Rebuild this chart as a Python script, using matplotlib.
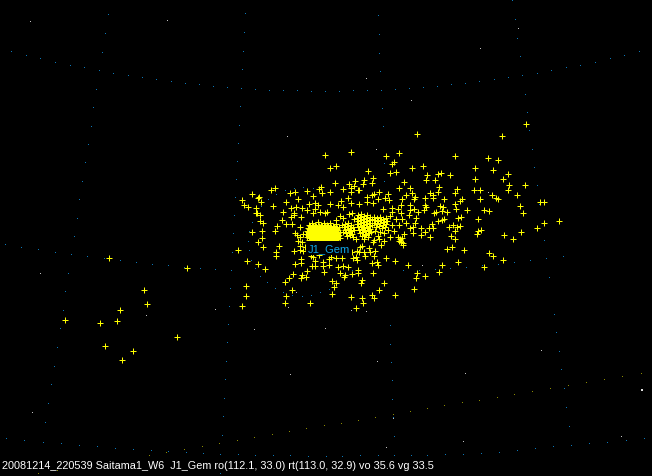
"""
Star field display: grid dots, yellow star crosses, label and status line
All values are pixel positions read off the picture
"""

import matplotlib
matplotlib.use("Agg")
import matplotlib.pyplot as plt

# yellow crosses
stars_sparse = [
    (109,259),(187,269),(144,291),(147,305),(120,311),(65,321),(100,324),(117,322),(177,338),(105,347),(133,352),(122,361),
    (325,156),(351,153),(399,154),(386,157),(330,169),(336,167),(394,163),(392,165),(390,174),(396,173),(368,172),(373,179),
    (355,182),(364,181),(335,184),(349,185),(363,185),(372,184),(343,190),(354,187),(351,189),(351,193),(359,191),(358,191),
    (399,189),(321,188),(319,190),(322,194),(330,193),(307,192),(295,193),(290,194),(275,189),(271,191),(252,195),(242,201),
    (244,206),(248,208),(259,198),(258,199),(261,203),(273,207),(286,203),(298,200),(313,197),(256,209),(256,214),(260,216),
    (283,213),(291,209),(296,208),(302,209),(307,211),(309,205),(315,204),(318,206),(315,210),(313,214),(320,213),(327,213),
    (325,214),(330,205),(338,206),(341,202),(343,208),(348,199),(351,204),(359,205),(367,198),(372,196),(379,193),(374,195),
    (388,195),(378,200),(385,199),(389,201),(367,203),(373,204),(392,209),(383,210),(398,210),(291,218),(301,218),(294,216),
]
stars_lower = [
    (294,214),(257,214),(260,222),(263,224),(277,227),(282,221),(286,225),(292,225),(300,228),(275,232),(252,233),(262,232),
    (262,239),(258,243),(263,248),(279,247),(295,234),(297,236),(300,238),(303,235),(298,242),(302,243),(294,252),(300,247),
    (300,251),(305,248),(303,252),(238,251),(276,253),(276,257),(247,262),(258,265),(265,270),(301,260),(301,264),(295,265),
    (307,272),(293,275),(289,279),(285,283),(302,276),(306,278),(301,279),(311,257),(315,262),(312,267),(315,267),(313,258),
    (319,256),(323,263),(323,267),(324,273),(329,266),(329,260),(331,258),(336,259),(342,259),(338,268),(343,267),(348,268),
    (340,274),(345,276),(344,278),(352,275),(358,271),(358,274),(362,281),(361,284),(373,274),(372,264),(378,266),(377,263),
    (386,259),(395,262),(353,259),(357,261),(356,258),(352,253),(360,248),(362,247),(357,252),(364,253),(365,257),(359,253),
    (369,249),(370,253),(374,257),(375,252),(373,243),(381,246),(384,284),(379,291),(395,296),(372,296),(374,299),(362,299),
    (363,304),(356,309),(351,298),(332,282),(336,284),(334,288),(332,295),(310,304),(292,291),(286,297),(285,304),(246,287),
    (246,297),(242,307),
]
stars_right = [
    (526,125),(417,135),(502,137),(455,157),(488,159),(498,161),(475,169),(493,171),(412,169),(423,167),(427,176),(438,175),
    (441,174),(450,176),(508,175),(426,181),(435,181),(475,180),(503,180),(404,183),(509,186),(525,186),(439,188),(410,189),
    (457,190),(474,191),(480,191),(508,191),(412,194),(430,194),(433,196),(438,193),(455,194),(406,196),(415,198),(433,199),
    (425,199),(444,200),(402,200),(414,200),(492,196),(496,199),(498,200),(480,200),(517,196),(462,200),(460,202),(540,203),
    (544,203),(455,205),(425,206),(410,206),(401,206),(440,207),(443,208),(520,207),(426,208),(414,210),(410,211),(424,211),
    (456,210),(467,211),(484,211),(489,212),(442,212),(447,213),(418,213),(434,214),(436,213),(523,214),(409,216),(401,214),
    (478,220),(461,218),(458,219),(416,219),(444,220),(442,221),(438,222),(402,220),(559,222),(544,224),(537,229),(406,224),
    (415,224),(432,225),(453,226),(460,227),(449,228),(457,228),(421,229),(410,229),(413,228),(429,229),(433,229),(481,231),
    (478,232),(477,235),(521,233),(504,236),(513,240),(455,232),(425,233),(413,234),(404,235),(421,236),(430,238),(451,237),
    (455,240),(401,243),(403,246),(447,250),(452,248),(464,251),(489,254),(493,257),(458,263),(503,261),(442,266),(408,266),
    (484,268),(439,273),(417,274),(425,277),(416,279),(414,290),
]
# the dense blobs, estimated
stars_blob_left = [
    (309,226),(312,224),(315,226),(318,223),(321,226),(324,224),(327,226),(330,224),(333,227),(336,225),(339,228),
    (308,229),(311,229),(314,228),(317,229),(320,228),(323,229),(326,228),(329,229),(332,230),(335,229),(338,231),
    (307,232),(310,232),(313,231),(316,232),(319,231),(322,232),(325,231),(328,232),(331,233),(334,232),(337,234),(340,233),
    (306,235),(309,235),(312,234),(315,235),(318,234),(321,235),(324,234),(327,235),(330,236),(333,235),(336,237),(339,236),
    (307,238),(310,238),(313,237),(316,238),(319,237),(322,238),(325,237),(328,238),(331,239),(334,238),(337,240),(340,239),
    (309,241),(312,240),(315,241),(318,240),(321,241),(324,240),(327,241),(330,241),(333,241),(336,241),
    (310,227),(313,227),(316,227),(319,227),(322,227),(325,227),(328,227),(331,228),(334,228),(337,229),
    (309,230),(312,230),(315,230),(318,230),(321,230),(324,230),(327,230),(330,231),(333,231),(336,232),
    (308,233),(311,233),(314,233),(317,233),(320,233),(323,233),(326,233),(329,234),(332,234),(335,235),(338,234),
    (308,236),(311,236),(314,236),(317,236),(320,236),(323,236),(326,236),(329,237),(332,237),(335,238),(338,237),
    (309,239),(312,239),(315,239),(318,239),(321,239),(324,239),(327,239),(330,240),(333,240),(336,239),
]
stars_clump_a = [
    (345,225),(348,224),(351,226),(344,228),(347,227),(350,229),(353,228),(345,231),(348,230),(351,232),(354,231),
    (346,234),(349,233),(352,235),(347,237),(350,236),(353,238),(343,233),(342,226),
]
stars_clump_b = [
    (358,216),(361,215),(364,217),(367,216),(370,218),(357,219),(360,218),(363,220),(366,219),(369,221),(372,220),
    (358,222),(361,221),(364,223),(367,222),(370,224),(357,225),(360,224),(363,226),(366,225),(369,227),(372,226),
    (358,228),(361,227),(364,229),(367,228),(370,230),(359,231),(362,230),(365,232),(368,231),(371,233),
    (360,234),(363,233),(366,235),(369,234),(362,237),(365,236),(368,238),(364,240),
]
stars_clump_c = [
    (374,218),(377,219),(380,218),(383,220),(386,219),(375,221),(378,222),(381,221),(384,223),(387,222),
    (374,224),(377,225),(380,224),(383,226),(386,225),(376,228),(379,227),(382,229),(385,228),
    (375,232),(380,233),(384,234),(378,237),(388,231),(392,226),
]
stars_clump_d = [
    (398,238),(400,240),(402,239),(401,243),(403,244),(399,242),
    (340,217),(336,221),(343,219),(349,215),(354,220),(390,217),(396,220),(399,226),(394,232),(390,238),
    (374,241),(379,240),(384,242),(356,240),(392,213),(352,214),
]

# blue grid dots, one list per curve
grid_h_top = [
    (11,53),(26,57),(40,60),(55,64),(70,67),(84,69),(99,72),(113,75),(128,77),(142,79),(156,81),(171,83),(185,85),(199,86),
    (213,88),(227,89),(241,90),(255,91),(269,92),(283,92),(297,92),(311,93),(325,93),(339,93),(353,92),(367,92),(381,92),
    (395,91),(409,90),(423,89),(437,88),(451,86),(465,85),(479,83),(494,81),(508,79),(522,77),(537,75),(551,72),(566,69),
    (580,67),(595,64),(610,60),(624,57),(639,53),
]
grid_h_mid = [
    (5,246),(21,249),(38,251),(55,254),(71,256),(87,258),(104,260),(120,262),(136,264),(152,266),(168,267),(184,269),(200,270),
    (215,271),(231,272),(403,272),(419,272),(435,271),(450,270),(466,269),(482,267),(498,266),(514,264),(530,262),(546,260),(563,258),
]
grid_h_low = [
    (6,440),(24,442),(43,444),(61,445),(79,447),(97,448),(115,450),(133,451),(151,452),(168,453),(186,454),(203,455),(220,456),
    (238,456),(255,457),(273,457),(290,457),(308,458),(326,458),(342,458),(360,457),(378,457),(394,457),(411,457),(427,457),
    (445,456),(463,456),(481,455),(499,454),(517,452),(535,450),(553,448),(571,447),(589,445),(607,444),(626,442),(644,440),
]
grid_v_1 = [
    (108,16),(105,35),(102,54),(99,72),(96,91),(93,109),(91,128),(88,146),(85,164),(82,183),(79,201),(77,220),(74,238),(71,256),
    (68,275),(65,293),(63,312),(60,330),(57,349),(54,368),(51,386),(48,405),(45,424),(43,444),
]
grid_v_2 = [
    (245,15),(244,34),(243,53),(242,71),(241,90),(240,108),(239,127),(238,145),(237,163),(236,181),(235,199),(234,217),(233,235),
    (232,254),(231,272),(230,290),(229,308),(228,326),(227,344),(226,363),(225,381),(224,400),(223,418),(222,437),(220,475),
]
grid_v_3 = [
    (378,17),(379,36),(379,55),(380,73),(381,92),(382,110),(383,128),(384,165),(384,183),
    (390,327),(390,346),(391,364),(392,382),(392,401),(393,419),(394,438),(394,457),
]
grid_v_4 = [
    (512,2),(515,21),(517,40),(520,58),(522,77),(525,96),(527,114),(529,132),(532,151),(534,169),(537,187),(539,206),(544,242),
    (549,279),(554,316),(556,334),(559,353),(561,371),(564,390),(566,409),(569,428),
]
field_circle = [
    (256,216),(261,208),(268,201),(276,196),(285,192),(294,190),(303,189),(313,190),(252,224),(249,233),(248,243),(249,252),
    (251,262),(255,270),(260,278),(267,284),(275,290),(283,294),(292,297),(302,298),(311,297),(320,294),(329,291),(338,285),
    (346,279),(352,272),(357,264),
]
# olive dots
grid_olive = [
    (38,475),(57,472),(149,457),(166,454),(184,451),(202,448),(219,445),(237,442),(254,439),(272,436),(289,433),(306,430),(324,427),
    (341,425),(358,422),(375,419),(393,416),(410,413),(427,410),(444,407),(462,404),(479,402),(497,399),(514,396),(532,393),
    (550,390),(568,387),(586,384),(604,381),(622,378),(641,375),
]
# faint grey and white background stars
faint_stars = [
    (30,23),(167,22),(518,30),(480,50),(366,80),(411,102),(287,138),(376,151),(488,194),(422,267),(541,352),(465,375),(463,443),
    (621,438),(215,311),(146,317),(40,275),(254,331),(325,330),(377,363),(290,376),(32,414),(386,449),(393,420),(288,309),
    (296,294),(351,312),(366,313),
]
bright_star = [(642,391)]

label_name = "J1_Gem"
status_line = "20081214_220539 Saitama1_W6  J1_Gem ro(112.1, 33.0) rt(113.0, 32.9) vo 35.6 vg 33.5"


def dots(points, color, marker=",", **kw):
    xs = [p[0] for p in points]
    ys = [p[1] for p in points]
    line, = ax.plot(xs, ys, linestyle="none", marker=marker, color=color, **kw)
    line.set_antialiased(False)
    return line


fig = plt.figure(figsize=(6.52, 4.77), dpi=100, facecolor="black")
ax = fig.add_axes([0, 0, 1, 1])
ax.set_xlim(0, 652)
ax.set_ylim(477, 0)
ax.axis("off")

blue = "#0b78b8"
for curve in (grid_h_top, grid_h_mid, grid_h_low, grid_v_1, grid_v_2, grid_v_3, grid_v_4, field_circle):
    dots(curve, blue, zorder=1)
dots(grid_olive, "#8c8c00", zorder=1)
dots(faint_stars, "#c0c0c0", zorder=1)
dots(bright_star, "#e0e0e0", marker="s", markersize=1.5, markeredgewidth=0, zorder=1)

for group in (stars_sparse, stars_lower, stars_right, stars_blob_left, stars_clump_a, stars_clump_b, stars_clump_c, stars_clump_d):
    dots(group, "#ffff00", marker="+", markersize=4.3, markeredgewidth=0.72, zorder=2)

ax.text(308, 249, label_name, color="#10a8e8", fontsize=8.0, family="Liberation Sans", va="center", ha="left",
        bbox=dict(facecolor="black", edgecolor="none", pad=1.4), zorder=3)
ax.text(1.5, 466, status_line, color="white", fontsize=7.8, family="Liberation Sans", va="center", ha="left", zorder=4)

fig.savefig("out.png", dpi=100, facecolor="black")
